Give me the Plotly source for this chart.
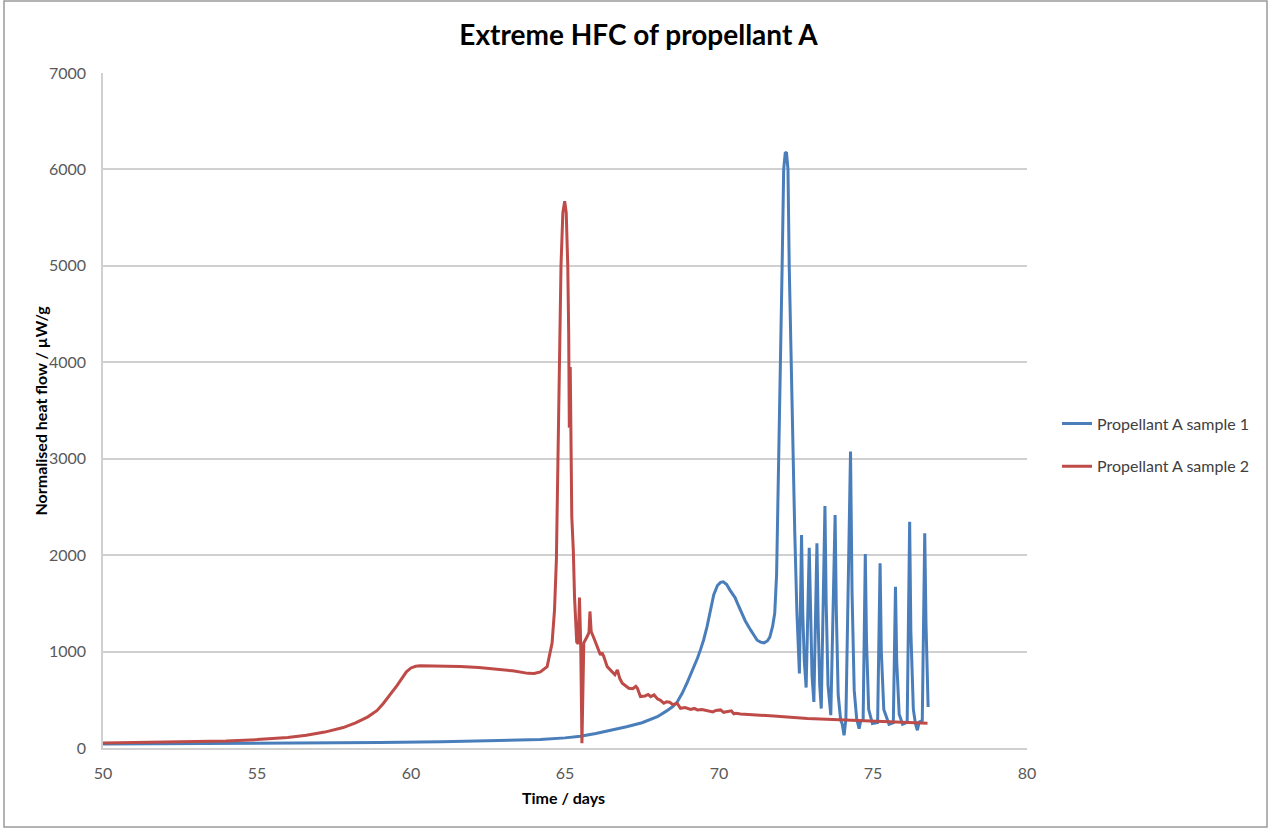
import plotly.graph_objects as go

# Heat-flow calorimetry of propellant A: time in days, normalised heat flow in µW/g
days_s1 = [
    50.0, 52.0, 55.0, 57.0, 59.0, 61.0, 63.0, 64.2, 65.0, 65.5, 66.0, 66.5, 67.0, 67.5,
    68.0, 68.3, 68.5, 68.64, 68.8, 68.97, 69.15, 69.3, 69.4, 69.5, 69.61, 69.72, 69.83,
    69.95, 70.05, 70.14, 70.25, 70.35, 70.43, 70.52, 70.6, 70.7, 70.85, 71.03, 71.24,
    71.35, 71.46, 71.57, 71.65, 71.74, 71.81, 71.87, 71.92, 71.96, 72.01, 72.05, 72.10,
    72.15, 72.19, 72.22, 72.24, 72.28, 72.32, 72.36, 72.46, 72.53, 72.58, 72.61,
    72.68, 72.72, 72.77, 72.83, 72.93, 72.97, 73.02, 73.08, 73.18, 73.22, 73.27, 73.32,
    73.44, 73.48, 73.54, 73.63, 73.77, 73.81, 73.87, 73.95, 74.0, 74.06, 74.12, 74.27,
    74.32, 74.39, 74.47, 74.55, 74.6, 74.68, 74.75, 74.79, 74.86, 74.98, 75.15, 75.23,
    75.27, 75.35, 75.52, 75.66, 75.73, 75.77, 75.85, 75.96, 76.11, 76.19, 76.23, 76.31,
    76.38, 76.44, 76.5, 76.6, 76.68, 76.72, 76.75, 76.79,
]
flow_s1 = [
    42, 44, 47, 51, 57, 65, 78, 88, 105, 122, 150, 183, 220, 262,
    325, 385, 430, 475, 565, 680, 810, 930, 1020, 1120, 1256, 1430, 1590,
    1685, 1718, 1724, 1695, 1640, 1603, 1560, 1500, 1430, 1320, 1222, 1118,
    1098, 1090, 1110, 1150, 1260, 1400, 1800, 2600, 3610, 4400, 5000, 6000,
    6170, 6179, 6100, 6000, 5000, 4300, 3610, 2230, 1400, 950, 772,
    2209, 1400, 900, 627, 2077, 1300, 750, 478, 2122, 1300, 650, 409,
    2510, 1500, 650, 340, 2416, 1400, 550, 288, 250, 132, 300, 3074,
    1600, 600, 300, 201, 280, 290, 2011, 1100, 400, 253, 265, 1915,
    1000, 400, 246, 262, 1672, 900, 350, 246, 268, 2347, 1200, 400,
    250, 184, 270, 285, 2226, 1300, 800, 426,
]

days_s2 = [
    50.0, 52.0, 54.0, 55.0, 56.0, 56.6, 57.2, 57.8, 58.2, 58.6, 58.9, 59.1, 59.35, 59.55,
    59.7, 59.85, 60.0, 60.15, 60.3, 61.0, 61.6, 62.2, 62.8, 63.3, 63.8, 64.0, 64.2, 64.42,
    64.58, 64.66, 64.72, 64.78, 64.83, 64.87, 64.93, 64.99, 65.04, 65.09, 65.12, 65.14,
    65.17, 65.22, 65.27, 65.31, 65.38, 65.43, 65.47, 65.51, 65.55, 65.61, 65.72, 65.78,
    65.81, 65.85, 65.94, 66.04, 66.1, 66.15, 66.2, 66.26, 66.37, 66.45, 66.53, 66.62,
    66.7, 66.78, 66.86, 66.95, 67.07, 67.2, 67.3, 67.35, 67.45, 67.6, 67.7, 67.78,
    67.89, 68.0, 68.1, 68.21, 68.3, 68.4, 68.5, 68.64, 68.75, 68.9, 69.0, 69.08, 69.2,
    69.3, 69.45, 69.62, 69.8, 69.9, 70.05, 70.15, 70.27, 70.4, 70.48, 70.55, 70.7,
    71.0, 71.78, 72.87, 73.95, 75.03, 76.0, 76.77,
]
flow_s2 = [
    52, 60, 72, 87, 110, 132, 165, 212, 260, 323, 390, 462, 560, 650,
    720, 790, 830, 848, 852, 850, 844, 835, 819, 800, 774, 772, 790, 844,
    1087, 1433, 1952, 3000, 4000, 5000, 5550, 5670, 5550, 5000, 4300, 3320,
    3950, 2400, 2050, 1560, 1100, 1080, 1560, 1080, 50, 1090, 1156, 1200,
    1416, 1208, 1138, 1052, 1000, 966, 990, 948, 844, 820, 793, 760,
    810, 720, 672, 650, 620, 615, 640, 620, 533, 540, 555, 533,
    550, 510, 495, 464, 480, 475, 450, 464, 412, 420, 405, 400, 410,
    395, 400, 388, 375, 390, 395, 370, 377, 385, 355, 360, 353,
    345, 332, 305, 291, 273, 265, 256,
]

series_names = ["Propellant A sample 1", "Propellant A sample 2"]
x_ticks = [50, 55, 60, 65, 70, 75, 80]
y_ticks = [0, 1000, 2000, 3000, 4000, 5000, 6000, 7000]

BLUE = "#4a7ebb"
RED = "#be4b48"
GRID = "#d0d0d0"
FONT = "Lato, 'Open Sans', sans-serif"

fig = go.Figure()
fig.add_trace(go.Scatter(x=days_s1, y=flow_s1, mode="lines", name=series_names[0],
                         legendgroup="s1", line=dict(color=BLUE, width=3)))
fig.add_trace(go.Scatter(x=days_s2, y=flow_s2, mode="lines", name=series_names[1],
                         legendgroup="s2", line=dict(color=RED, width=3)))

# plot area spans x 103..1027 px, y 73..748 px of the 1270x829 page
L, R, T, B = 103, 1027, 73, 748
W, H = 1270, 829
pw, ph = R - L, B - T

fig.update_layout(
    width=W, height=H,
    margin=dict(l=L, r=W - R, t=T, b=H - B, pad=0),
    paper_bgcolor="white", plot_bgcolor="white",
    font=dict(family=FONT, size=16, color="#595959"),
    title=dict(text="<b>Extreme HFC of propellant A</b>", x=638.5 / W, xanchor="center",
               y=1 - 35 / H, yanchor="middle", yref="container",
               font=dict(family=FONT, size=28, color="#000000")),
    showlegend=True,
    legend=dict(x=(1057 - L) / pw, xanchor="left", y=(B - 445) / ph, yanchor="middle",
                traceorder="grouped", tracegroupgap=19,
                font=dict(family=FONT, size=16, color="#404040"),
                bgcolor="rgba(0,0,0,0)"),
    xaxis=dict(range=[50, 80], tickvals=x_ticks, ticktext=[str(v) for v in x_ticks],
               showgrid=False, zeroline=False, showline=True, linecolor=GRID, linewidth=1.5,
               ticks="", ticklabelstandoff=10, fixedrange=True),
    yaxis=dict(range=[0, 7000], tickvals=y_ticks, ticktext=[str(v) for v in y_ticks],
               showgrid=True, gridcolor=GRID, gridwidth=1.5, zeroline=False,
               showline=True, linecolor=GRID, linewidth=1.5,
               ticks="", ticklabelstandoff=12, fixedrange=True),
    annotations=[
        dict(text="<b>Normalised heat flow / µW/g</b>", xref="paper", yref="paper",
             x=(40 - L) / pw, y=0.5, xanchor="center", yanchor="middle", textangle=-90,
             showarrow=False, font=dict(family=FONT, size=16, color="#000000")),
        dict(text="<b>Time / days</b>", xref="paper", yref="paper",
             x=(563 - L) / pw, y=(B - 798) / ph, xanchor="center", yanchor="middle",
             showarrow=False, font=dict(family=FONT, size=16, color="#000000")),
    ],
    shapes=[
        dict(type="rect", xref="paper", yref="paper",
             x0=(4 - L) / pw, x1=(1267 - L) / pw, y0=(B - 827) / ph, y1=(B - 1) / ph,
             line=dict(color="#9a9a9a", width=1.5), fillcolor="rgba(0,0,0,0)", layer="below"),
    ],
)

fig.write_html("out.html")
